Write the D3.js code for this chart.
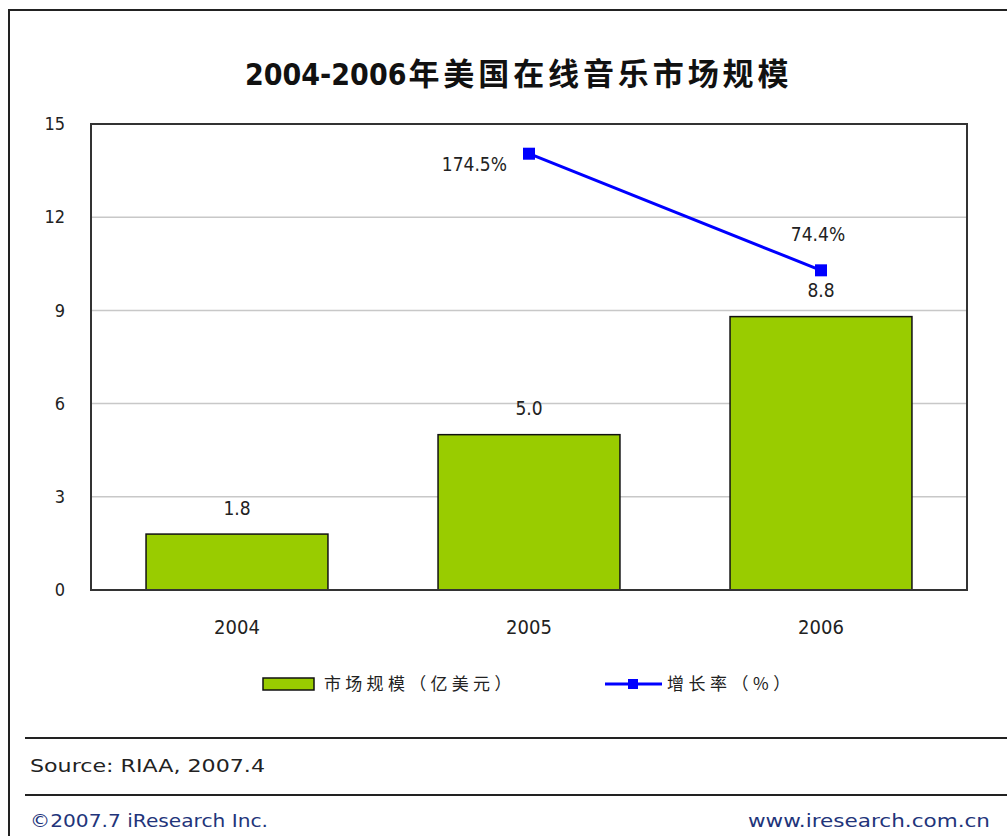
<!DOCTYPE html>
<html>
<head>
<meta charset="utf-8">
<script src="https://cdn.jsdelivr.net/npm/d3@7"></script>
<style>
  html, body { margin: 0; padding: 0; background: #fff; }
  svg { display: block; }
</style>
</head>
<body>
<svg id="chart" width="1007" height="836"></svg>
<script>
const categories = ["2004", "2005", "2006"];
const marketSize = [1.8, 5.0, 8.8];
const growthYears = ["2005", "2006"];
const growthRate = [174.5, 74.4];
const yTicks = [0, 3, 6, 9, 12, 15];
const titleYears = "2004-2006";
const titleRest = "年美国在线音乐市场规模";
const legendBar = "市场规模（亿美元）";
const legendLine = "增长率（%）";
const sourceText = "Source:  RIAA, 2007.4";
const copyText = "©2007.7 iResearch Inc.";
const siteText = "www.iresearch.com.cn";

const svg = d3.select("#chart");
const W = 1007, H = 836;
const plot = { left: 91, right: 967, top: 124, bottom: 590 };
const latin = "'DejaVu Sans Condensed', 'DejaVu Sans', sans-serif";
const cjk = "'Noto Sans CJK SC', sans-serif";

svg.append("rect").attr("width", W).attr("height", H).attr("fill", "#fff");

// outer frame
svg.append("path")
  .attr("d", `M9,${H} V10 H${W}`)
  .attr("fill", "none").attr("stroke", "#222").attr("stroke-width", 2);

// title
const title = svg.append("text")
  .attr("x", 245).attr("y", 85)
  .attr("font-weight", "bold")
  .attr("fill", "#111");
title.append("tspan").attr("font-family", latin).attr("font-size", 30)
  .attr("letter-spacing", 0).text(titleYears);
title.append("tspan").attr("font-family", cjk).attr("font-size", 31)
  .attr("dx", 2).attr("letter-spacing", 3.9).text(titleRest);

const x = d3.scaleBand().domain(categories)
  .range([plot.left, plot.right]).paddingInner(0.377).paddingOuter(0.1885);
const y = d3.scaleLinear().domain([0, 15]).range([plot.bottom, plot.top]);
const y2 = d3.scaleLinear().domain([-200, 200]).range([plot.bottom, plot.top]);

// gridlines
svg.append("g").selectAll("line").data(yTicks.filter(t => t > 0 && t < 15)).join("line")
  .attr("x1", plot.left).attr("x2", plot.right)
  .attr("y1", d => y(d)).attr("y2", d => y(d))
  .attr("stroke", "#c8c8c8").attr("stroke-width", 1.5);

// y axis labels
const yAxis = d3.axisLeft(y).tickValues(yTicks).tickSize(0).tickPadding(26).tickFormat(d3.format("d"));
const gy = svg.append("g").attr("transform", `translate(${plot.left},0)`).call(yAxis);
gy.select(".domain").remove();
gy.selectAll("text").attr("font-family", latin).attr("font-size", 18).attr("fill", "#222");

// x axis labels
const xAxis = d3.axisBottom(x).tickSize(0).tickPadding(30);
const gx = svg.append("g").attr("transform", `translate(0,${plot.bottom})`).call(xAxis);
gx.select(".domain").remove();
gx.selectAll("text").attr("font-family", latin).attr("font-size", 20).attr("fill", "#222");

// bars
svg.append("g").selectAll("rect").data(categories).join("rect")
  .attr("x", d => x(d)).attr("width", x.bandwidth())
  .attr("y", (d, i) => y(marketSize[i]))
  .attr("height", (d, i) => plot.bottom - y(marketSize[i]))
  .attr("fill", "#99cc00").attr("stroke", "#111").attr("stroke-width", 1.5);

// bar labels
svg.append("g").selectAll("text").data(categories).join("text")
  .attr("x", d => x(d) + x.bandwidth() / 2)
  .attr("y", (d, i) => y(marketSize[i]) - 26)
  .attr("dy", "0.35em")
  .attr("text-anchor", "middle")
  .attr("font-family", latin).attr("font-size", 19).attr("fill", "#222")
  .text((d, i) => d3.format(".1f")(marketSize[i]));

// plot frame
svg.append("rect")
  .attr("x", plot.left).attr("y", plot.top)
  .attr("width", plot.right - plot.left).attr("height", plot.bottom - plot.top)
  .attr("fill", "none").attr("stroke", "#333").attr("stroke-width", 2);

// growth line
const cx = d => x(d) + x.bandwidth() / 2;
const line = d3.line().x((d, i) => cx(growthYears[i])).y(d => y2(d));
svg.append("path").datum(growthRate)
  .attr("d", line).attr("fill", "none")
  .attr("stroke", "#0000ff").attr("stroke-width", 3);
svg.append("g").selectAll("rect").data(growthRate).join("rect")
  .attr("x", (d, i) => cx(growthYears[i]) - 6)
  .attr("y", d => y2(d) - 6)
  .attr("width", 12).attr("height", 12)
  .attr("fill", "#0000ff");

// growth labels
svg.append("text")
  .attr("x", cx(growthYears[0]) - 22).attr("y", y2(growthRate[0]) + 11)
  .attr("dy", "0.35em").attr("text-anchor", "end")
  .attr("font-family", latin).attr("font-size", 19).attr("fill", "#222")
  .text(growthRate[0].toFixed(1) + "%");
svg.append("text")
  .attr("x", cx(growthYears[1]) - 3).attr("y", y2(growthRate[1]) - 36)
  .attr("dy", "0.35em").attr("text-anchor", "middle")
  .attr("font-family", latin).attr("font-size", 19).attr("fill", "#222")
  .text(growthRate[1].toFixed(1) + "%");

// legend
const lg = svg.append("g");
lg.append("rect").attr("x", 263).attr("y", 678).attr("width", 51).attr("height", 12)
  .attr("fill", "#99cc00").attr("stroke", "#111").attr("stroke-width", 1.5);
lg.append("text").attr("x", 324).attr("y", 684).attr("dy", "0.36em")
  .attr("font-family", cjk).attr("font-size", 17).attr("letter-spacing", 4.3).attr("fill", "#222")
  .text(legendBar);
lg.append("line").attr("x1", 605).attr("x2", 662).attr("y1", 684).attr("y2", 684)
  .attr("stroke", "#0000ff").attr("stroke-width", 3);
lg.append("rect").attr("x", 628).attr("y", 679).attr("width", 10).attr("height", 10).attr("fill", "#0000ff");
lg.append("text").attr("x", 667).attr("y", 684).attr("dy", "0.36em")
  .attr("font-family", cjk).attr("font-size", 17).attr("letter-spacing", 4.5).attr("fill", "#222")
  .text(legendLine);

// footer
svg.append("line").attr("x1", 25).attr("x2", W).attr("y1", 738).attr("y2", 738)
  .attr("stroke", "#222").attr("stroke-width", 2);
svg.append("line").attr("x1", 25).attr("x2", W).attr("y1", 795).attr("y2", 795)
  .attr("stroke", "#222").attr("stroke-width", 2);
svg.append("text").attr("x", 30).attr("y", 772)
  .attr("font-family", "'DejaVu Sans', sans-serif").attr("font-size", 17).attr("fill", "#222")
  .attr("textLength", 235).attr("lengthAdjust", "spacingAndGlyphs")
  .text(sourceText);
svg.append("text").attr("x", 30).attr("y", 827)
  .attr("font-family", "'DejaVu Sans', sans-serif").attr("font-size", 17).attr("fill", "#22347a")
  .attr("textLength", 238).attr("lengthAdjust", "spacingAndGlyphs")
  .text(copyText);
svg.append("text").attr("x", 748).attr("y", 827)
  .attr("font-family", "'DejaVu Sans', sans-serif").attr("font-size", 17).attr("fill", "#22347a")
  .attr("textLength", 242).attr("lengthAdjust", "spacingAndGlyphs")
  .text(siteText);
</script>
</body>
</html>
